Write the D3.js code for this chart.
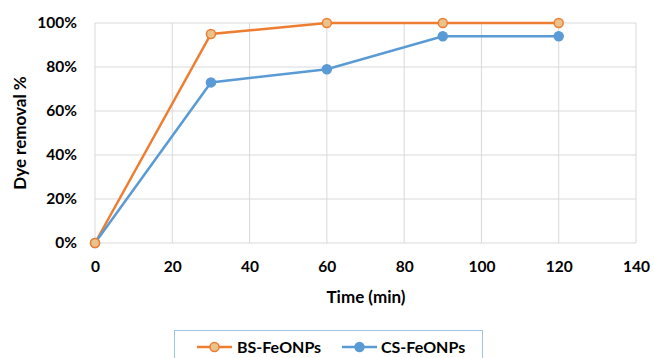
<!DOCTYPE html>
<html>
<head>
<meta charset="utf-8">
<script src="https://cdn.jsdelivr.net/npm/d3@7"></script>
<style>
  html, body { margin: 0; padding: 0; background: #fff; }
  svg { display: block; }
  text { font-family: Lato, "Open Sans", sans-serif; font-weight: bold; fill: #000; }
</style>
</head>
<body>
<svg id="chart" width="654" height="358"></svg>
<script>
// Sampling times (min) and dye removal (%) for each adsorbent
const times = [0, 30, 60, 90, 120];
const bsRemoval = [0, 95, 100, 100, 100];
const csRemoval = [0, 73, 79, 94, 94];
const seriesNames = ["BS-FeONPs", "CS-FeONPs"];
const xTicks = [0, 20, 40, 60, 80, 100, 120, 140];
const yTicks = [0, 20, 40, 60, 80, 100];

const svg = d3.select("#chart");
const plot = { left: 95, right: 636, top: 23, bottom: 243 };

const x = d3.scaleLinear().domain([0, 140]).range([plot.left, plot.right]);
const y = d3.scaleLinear().domain([0, 100]).range([plot.bottom, plot.top]);

// Gridlines
const grid = svg.append("g");
grid.selectAll("line.h").data(yTicks).enter().append("line")
  .attr("x1", plot.left).attr("x2", plot.right)
  .attr("y1", d => y(d)).attr("y2", d => y(d))
  .attr("stroke", "#d9d9d9").attr("stroke-width", 1);
grid.selectAll("line.v").data(xTicks).enter().append("line")
  .attr("y1", plot.top).attr("y2", plot.bottom)
  .attr("x1", d => x(d)).attr("x2", d => x(d))
  .attr("stroke", "#d9d9d9").attr("stroke-width", 1);

// Axes (labels only, no domain line)
const xAxis = svg.append("g")
  .attr("transform", `translate(0,${plot.bottom})`)
  .call(d3.axisBottom(x).tickValues(xTicks).tickSize(0).tickPadding(18));
xAxis.select(".domain").remove();
xAxis.selectAll("text").style("font-size", "15.5px").style("font-family", "Lato, sans-serif");

const yAxis = svg.append("g")
  .attr("transform", `translate(${plot.left},0)`)
  .call(d3.axisLeft(y).tickValues(yTicks).tickSize(0).tickPadding(18).tickFormat(d => d + "%"));
yAxis.select(".domain").remove();
yAxis.selectAll("text").style("font-size", "15.5px").style("font-family", "Lato, sans-serif");

// Axis titles
svg.append("text")
  .attr("x", 366).attr("y", 303)
  .attr("text-anchor", "middle").style("font-size", "17px")
  .text("Time (min)");
svg.append("text")
  .attr("transform", `translate(26,${(plot.top + plot.bottom) / 2}) rotate(-90)`)
  .attr("text-anchor", "middle").style("font-size", "17px")
  .text("Dye removal %");

// Series
const series = [
  { name: seriesNames[0], values: bsRemoval, stroke: "#ed7d31", fill: "#e9c28c" },
  { name: seriesNames[1], values: csRemoval, stroke: "#5b9bd5", fill: "#5b9bd5" }
];

const line = d3.line().x((d, i) => x(times[i])).y(d => y(d));

series.forEach(s => {
  svg.append("path")
    .datum(s.values)
    .attr("d", line)
    .attr("fill", "none")
    .attr("stroke", s.stroke)
    .attr("stroke-width", 2.5);
});
// Markers drawn after lines
series.slice().reverse().forEach(s => {
  svg.append("g").selectAll("circle").data(s.values).enter().append("circle")
    .attr("cx", (d, i) => x(times[i]))
    .attr("cy", d => y(d))
    .attr("r", 4.5)
    .attr("fill", s.fill)
    .attr("stroke", s.stroke)
    .attr("stroke-width", 1.5);
});

// Legend
const legend = svg.append("g");
legend.append("rect")
  .attr("x", 174.5).attr("y", 330.5).attr("width", 308).attr("height", 40)
  .attr("fill", "#fff").attr("stroke", "#9dc3e6").attr("stroke-width", 1);
const legendItems = [
  { s: series[0], x0: 197, tx: 237 },
  { s: series[1], x0: 342, tx: 381 }
];
legendItems.forEach(it => {
  legend.append("line")
    .attr("x1", it.x0).attr("x2", it.x0 + 35)
    .attr("y1", 347).attr("y2", 347)
    .attr("stroke", it.s.stroke).attr("stroke-width", 2.5);
  legend.append("circle")
    .attr("cx", it.x0 + 17.5).attr("cy", 347).attr("r", 4.5)
    .attr("fill", it.s.fill).attr("stroke", it.s.stroke).attr("stroke-width", 1.5);
  legend.append("text")
    .attr("x", it.tx).attr("y", 353)
    .style("font-size", "16px")
    .text(it.s.name);
});
</script>
</body>
</html>
